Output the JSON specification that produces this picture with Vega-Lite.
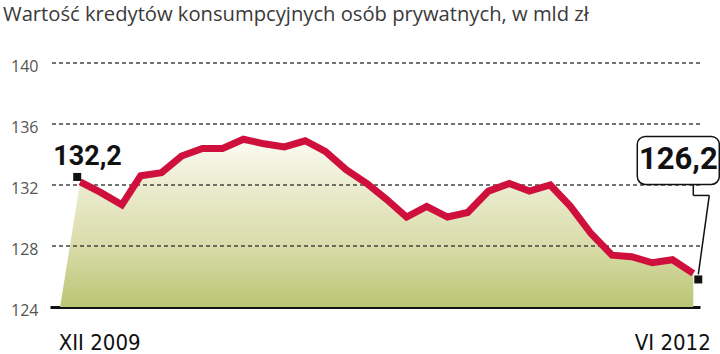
{
  "$schema": "https://vega.github.io/schema/vega-lite/v6.json",
  "autosize": {"type": "none"},
  "width": 650,
  "height": 244,
  "padding": {"left": 50, "top": 63, "right": 20, "bottom": 47},
  "background": "white",
  "config": {"view": {"stroke": null}},
  "title": {
    "text": "Wartość kredytów konsumpcyjnych osób prywatnych, w mld zł",
    "anchor": "start",
    "frame": "group",
    "dx": -47,
    "offset": 33,
    "fontSize": 20.2,
    "font": "Open Sans",
    "fontWeight": "normal",
    "color": "#3a3a3a"
  },
  "datasets": {
    "credit": [
      {"date": "2009-11-01", "v": 124, "edge": true},
      {"date": "2009-12-01", "v": 132.2},
      {"date": "2010-01-01", "v": 131.5},
      {"date": "2010-02-01", "v": 130.7},
      {"date": "2010-03-01", "v": 132.6},
      {"date": "2010-04-01", "v": 132.8},
      {"date": "2010-05-01", "v": 133.9},
      {"date": "2010-06-01", "v": 134.4},
      {"date": "2010-07-01", "v": 134.4},
      {"date": "2010-08-01", "v": 135.0},
      {"date": "2010-09-01", "v": 134.7},
      {"date": "2010-10-01", "v": 134.5},
      {"date": "2010-11-01", "v": 134.9},
      {"date": "2010-12-01", "v": 134.2},
      {"date": "2011-01-01", "v": 133.0},
      {"date": "2011-02-01", "v": 132.1},
      {"date": "2011-03-01", "v": 131.1},
      {"date": "2011-04-01", "v": 129.9},
      {"date": "2011-05-01", "v": 130.6},
      {"date": "2011-06-01", "v": 129.9},
      {"date": "2011-07-01", "v": 130.2},
      {"date": "2011-08-01", "v": 131.6},
      {"date": "2011-09-01", "v": 132.1},
      {"date": "2011-10-01", "v": 131.6},
      {"date": "2011-11-01", "v": 132.0},
      {"date": "2011-12-01", "v": 130.6},
      {"date": "2012-01-01", "v": 128.8},
      {"date": "2012-02-01", "v": 127.4},
      {"date": "2012-03-01", "v": 127.3},
      {"date": "2012-04-01", "v": 126.9},
      {"date": "2012-05-01", "v": 127.1},
      {"date": "2012-06-01", "v": 126.2}
    ],
    "grid": [{"g": 128}, {"g": 132}, {"g": 136}, {"g": 140}]
  },
  "data": {"name": "credit"},
  "encoding": {
    "x": {
      "field": "date",
      "type": "temporal",
      "title": null,
      "scale": {"domain": [
        {"year": 2009, "month": 10, "date": 17, "utc": true},
        {"year": 2012, "month": 6, "date": 11, "utc": true}
      ]},
      "axis": {
        "values": [
          {"year": 2009, "month": 12, "date": 1, "utc": true},
          {"year": 2012, "month": 6, "date": 1, "utc": true}
        ],
        "labelExpr": "utcyear(datum.value) == 2009 ? 'XII 2009' : 'VI 2012'",
        "labelAlign": {"condition": {"test": "utcyear(datum.value) == 2009", "value": "left"}, "value": "right"},
        "labelOffset": {"condition": {"test": "utcyear(datum.value) == 2009", "value": -22}, "value": 17},
        "labelFlush": false,
        "labelOverlap": false,
        "labelBound": false,
        "labelFont": "DejaVu Sans Condensed",
        "labelFontSize": 22,
        "labelColor": "#111111",
        "labelPadding": 42,
        "labelBaseline": "alphabetic",
        "ticks": false,
        "grid": false,
        "domainColor": "#111111",
        "domainWidth": 3
      }
    },
    "y": {
      "field": "v",
      "type": "quantitative",
      "title": null,
      "scale": {"domain": [124, 140], "zero": false, "nice": false},
      "axis": {
        "values": [124, 128, 132, 136, 140],
        "grid": false,
        "domain": false,
        "ticks": false,
        "labelFont": "Open Sans",
        "labelFontSize": 16,
        "labelColor": "#555555",
        "labelPadding": 12,
        "labelOffset": 3
      }
    }
  },
  "layer": [
    {
      "mark": {
        "type": "area",
        "fill": {
          "gradient": "linear",
          "x1": 0, "y1": 0, "x2": 0, "y2": 1,
          "stops": [
            {"offset": 0, "color": "#fbfbf3"},
            {"offset": 0.27, "color": "#ececd1"},
            {"offset": 0.63, "color": "#d9dca9"},
            {"offset": 1, "color": "#bbc575"}
          ]
        }
      },
      "encoding": {"y2": {"datum": 124}}
    },
    {
      "data": {"name": "grid"},
      "mark": {"type": "rule", "color": "#444444", "strokeWidth": 1.3, "strokeDash": [4, 3]},
      "encoding": {"x": null, "y": {"field": "g", "type": "quantitative"}}
    },
    {
      "transform": [{"filter": "!datum.edge"}],
      "mark": {"type": "line", "color": "#d0103c", "strokeWidth": 7}
    },
    {
      "transform": [{"filter": "utcyear(datum.date) == 2009 && utcmonth(datum.date) == 11"}],
      "layer": [
        {"mark": {"type": "point", "shape": "square", "size": 64, "filled": true, "color": "#111111", "opacity": 1, "xOffset": -3, "yOffset": -5}},
        {"mark": {"type": "text", "text": "132,2", "align": "left", "baseline": "alphabetic", "dx": -27, "dy": -17, "font": "Roboto", "fontWeight": "bold", "fontSize": 27, "color": "#111111"}}
      ]
    },
    {
      "transform": [{"filter": "utcyear(datum.date) == 2012 && utcmonth(datum.date) == 5"}],
      "layer": [
        {"mark": {"type": "point", "shape": "square", "size": 64, "filled": true, "color": "#111111", "opacity": 1, "xOffset": 5, "yOffset": 6}},
        {"mark": {"type": "rect", "fill": "white", "stroke": "#111111", "strokeWidth": 1.5, "cornerRadius": 8, "xOffset": -56, "x2Offset": 26, "yOffset": -137, "y2Offset": -89},
         "encoding": {"x2": {"field": "date"}, "y2": {"field": "v"}}},
        {"mark": {"type": "rule", "color": "#111111", "strokeWidth": 1.5, "xOffset": 0, "x2Offset": 0, "yOffset": -89, "y2Offset": -78},
         "encoding": {"x2": {"field": "date"}, "y2": {"field": "v"}}},
        {"mark": {"type": "rule", "color": "#111111", "strokeWidth": 1.5, "xOffset": 0, "x2Offset": 16, "yOffset": -78, "y2Offset": -78},
         "encoding": {"x2": {"field": "date"}, "y2": {"field": "v"}}},
        {"mark": {"type": "rule", "color": "#111111", "strokeWidth": 1.5, "xOffset": 16, "x2Offset": 5, "yOffset": -78, "y2Offset": 1},
         "encoding": {"x2": {"field": "date"}, "y2": {"field": "v"}}},
        {"mark": {"type": "text", "text": "126,2", "align": "center", "baseline": "middle", "dx": -15, "dy": -113, "font": "Roboto", "fontWeight": "bold", "fontSize": 31, "color": "#111111"}}
      ]
    }
  ]
}
